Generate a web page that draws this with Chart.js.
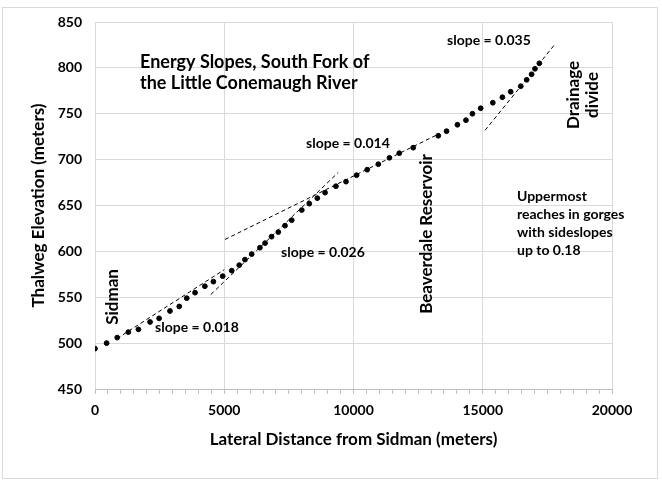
<!DOCTYPE html>
<html>
<head>
<meta charset="utf-8">
<script src="https://cdn.jsdelivr.net/npm/chart.js@4"></script>
<style>
  html, body { margin: 0; padding: 0; background: #fff; }
  #wrap { position: relative; width: 662px; height: 486px; }
  #frame { position: absolute; left: 2px; top: 7px; width: 656px; height: 472px; border: 1px solid #d9d9d9; box-sizing: border-box; }
  canvas { position: absolute; left: 0; top: 0; }
</style>
</head>
<body>
<div id="wrap">
  <div id="frame"></div>
  <canvas id="chart" width="662" height="486"></canvas>
</div>
<script>
// measured thalweg profile (distance m, elevation m)
const distance = [0, 450, 860, 1290, 1680, 2130, 2480, 2900, 3260, 3550, 3870, 4250, 4580, 4940,
  5290, 5580, 5800, 6060, 6380, 6580, 6830, 7090, 7350, 7610, 8000, 8290, 8600, 8900, 9320,
  9710, 10120, 10530, 10960, 11390, 11770, 12310, 13280, 13600, 14020, 14350, 14600, 14920,
  15390, 15760, 16080, 16470, 16700, 16890, 17020, 17190];
const elevation = [494, 500, 506, 512, 515, 523, 527, 535, 540, 549, 555, 562, 567, 573,
  579, 585, 591, 597, 604, 609, 616, 621, 628, 634, 645, 652, 658, 664, 671,
  676, 683, 689, 695, 702, 707, 713, 726, 731, 738, 743, 750, 756,
  762, 768, 774, 780, 787, 793, 799, 805];

// hand-drawn slope lines: [x0, x1], [y0, y1]
const slope018X = [850, 5000];
const slope018Y = [505, 580];
const slope026X = [4480, 9410];
const slope026Y = [553, 686];
const slope014X = [5030, 13300];
const slope014Y = [613, 728];
const slope035X = [15090, 17800];
const slope035Y = [732, 826];

const xTicks = [0, 5000, 10000, 15000, 20000];
const yTicks = [450, 500, 550, 600, 650, 700, 750, 800, 850];

const FONT = "Lato, 'Liberation Sans', sans-serif";

const toPts = (xs, ys) => xs.map((x, i) => ({ x: x, y: ys[i] }));

const dashed = (xs, ys) => ({
  type: "line",
  data: toPts(xs, ys),
  borderColor: "#000",
  borderWidth: 1,
  borderDash: [4, 3],
  pointRadius: 0,
  fill: false,
});

// free text placed on the chart, pixel positions
const notes = [
  { t: "Energy Slopes, South Fork of", x: 140, y: 62, size: 18, align: "left" },
  { t: "the Little Conemaugh River", x: 140, y: 83, size: 18, align: "left" },
  { t: "slope = 0.035", x: 447, y: 40, size: 14, align: "left" },
  { t: "Drainage", x: 574, y: 95, size: 17, align: "center", rot: true },
  { t: "divide", x: 593, y: 95, size: 17, align: "center", rot: true },
  { t: "slope = 0.014", x: 306, y: 143, size: 14, align: "left" },
  { t: "Beaverdale Reservoir", x: 427, y: 234, size: 17, align: "center", rot: true },
  { t: "Uppermost", x: 517, y: 196, size: 14, align: "left" },
  { t: "reaches in gorges", x: 517, y: 214, size: 14, align: "left" },
  { t: "with sideslopes", x: 517, y: 232, size: 14, align: "left" },
  { t: "up to 0.18", x: 517, y: 250, size: 14, align: "left" },
  { t: "slope = 0.026", x: 281, y: 252, size: 14, align: "left" },
  { t: "Sidman", x: 113, y: 297, size: 17, align: "center", rot: true },
  { t: "slope = 0.018", x: 155, y: 327, size: 14, align: "left" },
];

const notesPlugin = {
  id: "notes",
  afterDatasetsDraw(chart) {
    const ctx = chart.ctx;
    ctx.save();
    ctx.fillStyle = "#000";
    ctx.textBaseline = "middle";
    notes.forEach((n) => {
      ctx.font = "bold " + n.size + "px " + FONT;
      ctx.textAlign = n.align;
      ctx.save();
      ctx.translate(n.x, n.y);
      if (n.rot) ctx.rotate(-Math.PI / 2);
      ctx.fillText(n.t, 0, 0);
      ctx.restore();
    });
    ctx.restore();
  },
};

new Chart(document.getElementById("chart"), {
  type: "scatter",
  data: {
    datasets: [
      {
        data: toPts(distance, elevation),
        backgroundColor: "#000",
        borderColor: "#000",
        pointRadius: 2.4,
        showLine: false,
      },
      dashed(slope018X, slope018Y),
      dashed(slope026X, slope026Y),
      dashed(slope014X, slope014Y),
      dashed(slope035X, slope035Y),
    ],
  },
  options: {
    responsive: false,
    animation: false,
    events: [],
    layout: { padding: { left: 0, top: 22, right: 50, bottom: 0 } },
    plugins: { legend: { display: false }, tooltip: { enabled: false } },
    scales: {
      x: {
        type: "linear",
        min: xTicks[0],
        max: xTicks[xTicks.length - 1],
        afterFit: (s) => { s.height = 97; },
        afterBuildTicks: (s) => {
          // minor tick every 500 m, labels only on the major ones
          const t = [];
          for (let v = s.min; v <= s.max; v += 500) t.push({ value: v });
          s.ticks = t;
        },
        ticks: {
          autoSkip: false,
          maxRotation: 0,
          minRotation: 0,
          padding: 8,
          color: "#000",
          font: { family: FONT, size: 14, weight: "bold" },
          callback: (v) => (xTicks.includes(v) ? String(v) : ""),
        },
        grid: {
          color: (c) => (c.tick && xTicks.includes(c.tick.value) ? "#d9d9d9" : "rgba(0,0,0,0)"),
          tickColor: "#bfbfbf",
          tickLength: 5,
        },
        border: { color: "#bfbfbf" },
        title: {
          display: true,
          text: "Lateral Distance from Sidman (meters)",
          color: "#000",
          font: { family: FONT, size: 17, weight: "bold" },
          padding: { top: 0, bottom: 36 },
        },
      },
      y: {
        type: "linear",
        min: yTicks[0],
        max: yTicks[yTicks.length - 1],
        afterFit: (s) => { s.width = 95; },
        ticks: {
          stepSize: 50,
          padding: 13,
          color: "#000",
          font: { family: FONT, size: 14, weight: "bold" },
        },
        grid: { color: "#d9d9d9", drawTicks: false },
        border: { display: false },
        title: {
          display: true,
          text: "Thalweg Elevation (meters)",
          color: "#000",
          font: { family: FONT, size: 17, weight: "bold" },
          padding: { top: 28, bottom: 0 },
        },
      },
    },
  },
  plugins: [notesPlugin],
});
</script>
</body>
</html>
